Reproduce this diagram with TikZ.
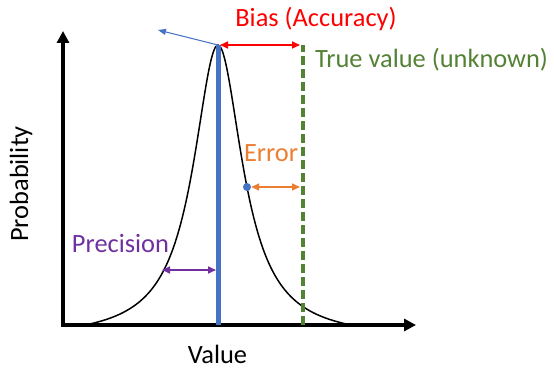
\documentclass[tikz,border=0pt]{standalone}
\usepackage{fontspec}
\setmainfont{Carlito}
\usetikzlibrary{arrows.meta}
\definecolor{biasred}{RGB}{255,0,0}
\definecolor{errorange}{RGB}{237,125,49}
\definecolor{precpurple}{RGB}{112,48,160}
\definecolor{truegreen}{RGB}{84,130,53}
\definecolor{meanblue}{RGB}{68,114,196}
\tikzset{
  axis/.style={line width=4pt, -{Triangle[length=12pt,width=12pt]}},
  span/.style={line width=1.6pt, {Triangle[length=8pt,width=7pt]}-{Triangle[length=8pt,width=7pt]}},
  lbl/.style={font=\fontsize{26.4}{30}\selectfont, inner sep=0pt, anchor=base},
}
\begin{document}
\begin{tikzpicture}[x=1pt, y=-1pt]
\useasboundingbox (0,0) rectangle (554,371);
% axes
\coordinate (origin) at (63,325);
\coordinate (ytop) at (63,31);
\coordinate (xend) at (416,325);
\draw[axis] (origin) -- (ytop);
\draw[axis] ([xshift=-2pt]origin) -- (xend);
% bell curve
\draw[line width=1.5pt, domain=-133:133, samples=121, smooth]
  plot ({218+\x},{325-(294.25/(1+(\x/30)^2)-14.25)});
% mean and true value
\coordinate (peak) at (218,45);
\coordinate (meanbase) at (218,325);
\coordinate (truetop) at (303,45);
\coordinate (truebase) at (303,325);
\draw[meanblue, line width=5pt] (meanbase) -- (peak);
\draw[truegreen, line width=4pt, dash pattern=on 9pt off 4pt] (truebase) -- (truetop);
\coordinate (away) at (158,30);
\draw[meanblue, line width=1pt, -{Triangle[length=8pt,width=6pt]}] (peak) -- (away);
% bias
\draw[span, biasred] ([xshift=2pt]peak) -- ([xshift=-3pt]truetop);
\node[lbl, text=biasred] (bias) at (316,27) {Bias (Accuracy)};
\node[lbl, text=truegreen, anchor=base west] (truelbl) at (315,68) {True value (unknown)};
% error
\node[circle, fill=meanblue, inner sep=0pt, minimum size=8pt] (dot) at (247,187) {};
\coordinate (errend) at (300,187);
\draw[span, errorange] (dot) -- (errend);
\node[lbl, text=errorange] (err) at (271,162) {Error};
% precision
\coordinate (precl) at (162,270);
\coordinate (precr) at (216,270);
\draw[span, precpurple] (precl) -- (precr);
\node[lbl, text=precpurple] (prec) at (120.5,253) {Precision};
% axis labels
\node[lbl, rotate=90] (ylbl) at (28,184) {Probability};
\node[lbl, text depth=0pt] (xlbl) at (217.5,363) {Value};
\end{tikzpicture}
\end{document}
